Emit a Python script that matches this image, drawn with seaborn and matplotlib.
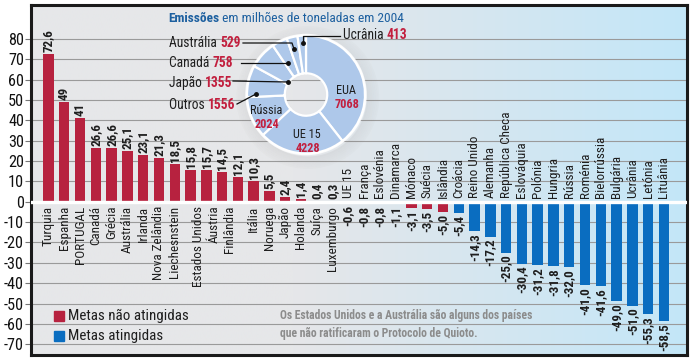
import numpy as np
import pandas as pd
import matplotlib
matplotlib.use("Agg")
import matplotlib.pyplot as plt
from matplotlib import font_manager as fm
from matplotlib.patches import Rectangle, Wedge
from matplotlib.lines import Line2D
import seaborn as sns

# ---------------- data ----------------
countries = ["Turquia", "Espanha", "PORTUGAL", "Canadá", "Grécia", "Austrália", "Irlanda",
             "Nova Zelândia", "Liechesnstein", "Estados Unidos", "Áustria", "Finlândia", "Itália",
             "Noruega", "Japão", "Holanda", "Suíça", "Luxemburgo", "UE 15", "França", "Eslovénia",
             "Dinamarca", "Mónaco", "Suécia", "Islândia", "Croácia", "Reino Unido", "Alemanha",
             "República Checa", "Eslováquia", "Polónia", "Hungria", "Rússia", "Roménia",
             "Bielorrússia", "Bulgária", "Ucrânia", "Letónia", "Lituânia"]
values = [72.6, 49, 41, 26.6, 26.6, 25.1, 23.1, 21.3, 18.5, 15.8, 15.7, 14.5, 12.1, 10.3,
          5.5, 2.4, 1.4, 0.4, 0.3, -0.6, -0.8, -0.8, -1.1, -3.1, -3.5, -5.0, -5.4, -14.3,
          -17.2, -25.0, -30.4, -31.2, -31.8, -32.0, -41.0, -41.6, -49.0, -51.0, -55.3, -58.5]
status = ["Metas não atingidas"] * 26 + ["Metas atingidas"] * 14

pie_labels = ["EUA", "UE 15", "Rússia", "Outros", "Japão", "Canadá", "Austrália", "Ucrânia"]
pie_values = [7068, 4228, 2024, 1556, 1355, 758, 529, 413]

title_bold = "Emissões"
title_rest = " em milhões de toneladas em 2004"
legend_labels = ["Metas não atingidas", "Metas atingidas"]
note_lines = ["Os Estados Unidos e a Austrália são alguns dos países",
              "que não ratificaram o Protocolo de Quioto."]
yticks = list(range(-70, 90, 10))
# --------------------------------------

W, H = 696, 362
RED = "#B7223F"
BLUE = "#0A6DC0"
PIEC = "#AEC8EA"
NUMRED = "#C21F3E"
TBLUE = "#1C5F9F"
DARK = "#1E1E1E"

# choose the narrowest installed sans family
entries = fm.fontManager.ttflist
names = {f.name for f in entries}
def _is_cond(f):
    fn = f.fname.lower()
    return ("condensed" in fn or "narrow" in fn) and "semi" not in fn and "extra" not in fn
FAMILY, STRETCH = "DejaVu Sans", "normal"
if "Liberation Sans Narrow" in names:
    FAMILY, STRETCH = "Liberation Sans Narrow", "normal"
else:
    for cand in ["Roboto Condensed", "Open Sans Condensed", "Noto Sans Condensed"]:
        if cand in names:
            FAMILY = cand
            break
    else:
        found = False
        for cand in ["Noto Sans", "DejaVu Sans", "Open Sans", "Roboto"]:
            if any(f.name == cand and _is_cond(f) for f in entries):
                FAMILY, STRETCH = cand, "condensed"
                found = True
                break
        if not found:
            FAMILY = "Roboto" if "Roboto" in names else "DejaVu Sans"

plt.rcParams["font.family"] = [FAMILY, "DejaVu Sans"]
plt.rcParams["font.stretch"] = STRETCH
plt.rcParams["axes.unicode_minus"] = False

fig = plt.figure(figsize=(W / 100, H / 100), dpi=100)
fig.patch.set_facecolor("white")
renderer = fig.canvas.get_renderer()

def fx(x):
    return x / W

def fy(y):
    return 1 - y / H

def width_of(text, size, weight="normal"):
    t = fig.text(0, 0, text, fontsize=size, fontweight=weight)
    w = t.get_window_extent(renderer).width
    t.remove()
    return w

def fit(text, target, weight="normal", base=10.0):
    return base * target / width_of(text, base, weight)

tick_size = fit("-70", 20)
name_size = fit("Estados Unidos", 81)
val_size = fit("72,6", 23, "bold")
title_size = 10.0 * 234 / (width_of(title_bold, 10, "bold") + width_of(title_rest, 10))
out_size = 10.0 * 71 / (width_of("Austrália ", 10) + width_of("529", 10, "bold"))
in_size = fit("Rússia", 32)
leg_size = fit(legend_labels[0], 120)
note_size = fit(note_lines[0], 254, "bold")

# ---------------- bar chart ----------------
X0, STEP = 48.5, 15.78          # pixel centre of first bar, pixel step between bars
XMIN = (31 - X0) / STEP
XMAX = 39 + (687 - (X0 + 39 * STEP)) / STEP
YMIN, YMAX = -75.3, 96.7

ax = fig.add_axes([fx(31), fy(355), fx(687) - fx(31), fy(5) - fy(355)])
idx = list(range(len(values)))
df = pd.DataFrame({"pos": idx, "value": values, "status": status})
sns.barplot(data=df, x="pos", y="value", hue="status",
            palette={legend_labels[0]: RED, legend_labels[1]: BLUE},
            dodge=False, width=0.66, legend=False, ax=ax, zorder=3, saturation=1)
ax.set_xlim(XMIN, XMAX)
ax.set_ylim(YMIN, YMAX)

# background gradient grey -> light blue
g = np.linspace(0, 1, 400)
t = np.clip((g - 0.40) / 0.60, 0, 1)
c0 = np.array([0xE6, 0xE7, 0xE9]) / 255
c1 = np.array([0xC3, 0xE6, 0xF8]) / 255
img = (c0[None, :] * (1 - t[:, None]) + c1[None, :] * t[:, None])[None, :, :]
ax.imshow(img, extent=[XMIN, XMAX, YMIN, YMAX], aspect="auto", zorder=0)
ax.set_xlim(XMIN, XMAX)
ax.set_ylim(YMIN, YMAX)

for yv in yticks:
    if yv != 0:
        ax.axhline(yv, color="#9A9A9A", lw=0.8, zorder=1)
ax.axhline(0, color="white", lw=2.4, zorder=4)

ax.set_xticks([])
ax.set_xlabel("")
ax.set_ylabel("")
ax.set_yticks(yticks)
ax.set_yticklabels([str(v) for v in yticks], fontsize=tick_size, color="#111111")
ax.tick_params(axis="y", length=4, width=0.8, color="#777777", pad=1)
for s in ["top", "left", "bottom", "right"]:
    ax.spines[s].set_color("#1a1a1a")
    ax.spines[s].set_linewidth(2.2)

def fmt(v):
    if v > 0 and float(v).is_integer():
        return str(int(v))
    return f"{v:.1f}".replace(".", ",")

for i, v in enumerate(values):
    if v >= 0:
        ax.text(i, v + 1.0, fmt(v), rotation=90, ha="center", va="bottom",
                fontsize=val_size, fontweight="bold", color=DARK, zorder=5)
    else:
        ax.text(i, v - 1.0, fmt(v), rotation=90, ha="center", va="top",
                fontsize=val_size, fontweight="bold", color=DARK, zorder=5)

# country names: the reference spreads 3 names over 4 bars (9..13)
name_x = []
for k in range(len(countries)):
    if k <= 8:
        name_x.append(k)
    elif k <= 11:
        name_x.append(k + 0.5)
    else:
        name_x.append(k + 1)
for k, c in enumerate(countries):
    bar_v = values[min(int(round(name_x[k])), len(values) - 1)]
    if bar_v >= 0:
        ax.text(name_x[k], -2.0, c, rotation=90, ha="center", va="top",
                fontsize=name_size, color=DARK, zorder=5)
    else:
        ax.text(name_x[k], 2.0, c, rotation=90, ha="center", va="bottom",
                fontsize=name_size, color=DARK, zorder=5)

# ---------------- donut ----------------
CX, CY, R = 306, 94.5, 59
S = 170
ax2 = fig.add_axes([fx(CX - S / 2), fy(CY + S / 2), S / W, S / H])
lim = S / 2 / R
for k in range(7):
    ax2.add_patch(Wedge((0.03, -0.05), 1.0 + 0.03 * (k + 1), 0, 360, width=0.03,
                        color="#7A7A7A", alpha=0.10 - 0.012 * k, lw=0, zorder=0))
ax2.add_patch(Wedge((0, 0), 1.03, 0, 360, width=0.04, color="white", alpha=0.8,
                    lw=0, zorder=0.5))
ax2.pie(pie_values, startangle=90, counterclock=False, colors=[PIEC] * len(pie_values),
        radius=1.0, wedgeprops=dict(width=0.64, edgecolor="white", linewidth=1.6))
ax2.set_xlim(-lim, lim)
ax2.set_ylim(-lim, lim)
ax2.set_aspect("equal")
ax2.axis("off")

def rich(x, y, parts, size):
    cur = x
    for txt, col, wt in parts:
        t_ = fig.text(fx(cur), fy(y), txt, color=col, fontweight=wt, fontsize=size,
                      ha="left", va="center")
        cur += t_.get_window_extent(renderer).width

rich(168, 18, [(title_bold, TBLUE, "bold"), (title_rest, TBLUE, "normal")], title_size)

outside = {"Austrália": (169, 43), "Canadá": (169, 63), "Japão": (169, 83),
           "Outros": (169, 105), "Ucrânia": (343, 35)}
for lab, val in zip(pie_labels, pie_values):
    if lab in outside:
        x, y = outside[lab]
        rich(x, y, [(lab + " ", DARK, "normal"), (str(val), NUMRED, "bold")], out_size)

inside = {"EUA": (346, 90), "UE 15": (307, 135), "Rússia": (266, 110)}
for lab, val in zip(pie_labels, pie_values):
    if lab in inside:
        x, y = inside[lab]
        fig.text(fx(x), fy(y), lab, ha="center", va="center", fontsize=in_size, color=DARK)
        fig.text(fx(x + 1), fy(y + 14), str(val), ha="center", va="center",
                 fontsize=in_size, color=NUMRED, fontweight="bold")

leaders = [[(243, 43), (292, 43), (294, 49)],
           [(241, 63), (288, 63)],
           [(233, 81), (288, 82)],
           [(237, 104), (256, 94)],
           [(340, 36), (303, 36), (303, 43)]]
for pts in leaders:
    xs = [fx(p[0]) for p in pts]
    ys = [fy(p[1]) for p in pts]
    fig.add_artist(Line2D(xs, ys, color="#111111", lw=0.9, transform=fig.transFigure))
    fig.add_artist(Line2D([xs[-1]], [ys[-1]], color="#111111", marker="o", ms=2.5,
                          transform=fig.transFigure))

# ---------------- legend & note ----------------
for lab, col, y in [(legend_labels[0], RED, 316), (legend_labels[1], BLUE, 336)]:
    fig.add_artist(Rectangle((fx(54), fy(y + 5)), 10 / W, 10 / H, color=col,
                             transform=fig.transFigure))
    fig.text(fx(68), fy(y), lab, ha="left", va="center", fontsize=leg_size, color=DARK)

fig.text(fx(280), fy(316), note_lines[0], ha="left", va="center", fontsize=note_size,
         color="#8C8C8C", fontweight="bold")
fig.text(fx(280), fy(333), note_lines[1], ha="left", va="center", fontsize=note_size,
         color="#8C8C8C", fontweight="bold")

fig.savefig("out.png", dpi=100, facecolor="white")
